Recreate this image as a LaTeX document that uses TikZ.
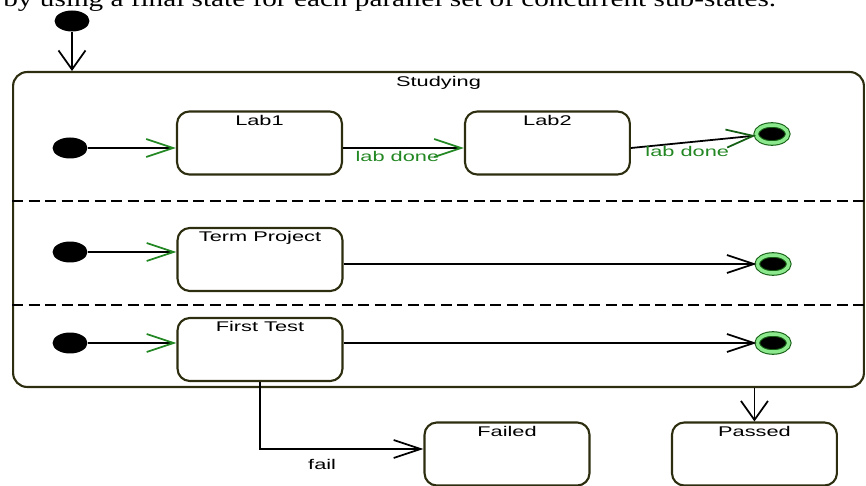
\documentclass[tikz,border=0pt]{standalone}
\usepackage{fontspec}
\setmainfont[FakeStretch=1.55]{Liberation Sans}
\newfontfamily\pageserif[FakeStretch=1.28]{Liberation Serif}
\usetikzlibrary{arrows.meta,positioning,shapes.geometric}

\definecolor{umlgreen}{RGB}{35,135,35}
\definecolor{ringgreen}{RGB}{140,232,140}
\definecolor{darkgreen}{RGB}{20,95,20}
\definecolor{boxline}{RGB}{45,45,15}

\begin{document}
\begin{tikzpicture}[x=0.02cm, y=-0.02cm, node distance=5.76cm,
        font=\fontsize{8}{9.6}\selectfont,
        statebox/.style={rectangle, draw=boxline, line width=1.2pt, rounded corners=7pt, minimum width=3.3cm, minimum height=1.26cm, label={[anchor=north, inner sep=2.5pt]north:#1}},
        superstate/.style={rectangle, draw=boxline, line width=1.2pt, rounded corners=8pt, minimum width=17.02cm, minimum height=6.3cm, label={[anchor=north, inner sep=3pt]north:#1}},
        initstate/.style={ellipse, fill=black, inner sep=0pt, minimum width=0.7cm, minimum height=0.42cm},
        finalstate/.style={ellipse, fill=black, draw=darkgreen, line width=0.6pt, double=ringgreen, double distance=2pt, inner sep=0pt, minimum width=0.63cm, minimum height=0.36cm},
        hflow/.style={line width=1pt, -{Straight Barb[length=5.4mm, width=3.6mm, color=#1]}},
        hflow/.default=black,
        vflow/.style={line width=1pt, -{Straight Barb[length=3.8mm, width=5.4mm]}},
        guard/.style={text=umlgreen, inner sep=1.5pt}]

        \useasboundingbox (0,0) rectangle (866,486);

        % Page text cut off above
        \node[anchor=base west, inner sep=0pt, font=\pageserif\fontsize{13}{15}\selectfont] (pagetext) at (3,7) {by using a final state for each parallel set of concurrent sub-states.};

        % Composite state
        \node[superstate=Studying] (studying) at (438.5,229.5) {};
        \coordinate (split1) at (0,201);
        \coordinate (split2) at (0,305);

        % Entry
        \node[initstate] (start) at (72,21) {};

        % Labs
        \node[initstate] (labinit) at (70,148) {};
        \node[statebox=Lab1] (lab1) at (259.5,143) {};
        \node[statebox=Lab2, right of=lab1] (lab2) {};
        \node[finalstate] (labend) at (772,134) {};

        % Term project
        \node[initstate] (projinit) at (70,252) {};
        \node[statebox=Term Project] (project) at (260,259.5) {};
        \node[finalstate] (projend) at (773,264) {};

        % First test
        \node[initstate] (testinit) at (70,343) {};
        \node[statebox=First Test] (firsttest) at (260,349.5) {};
        \node[finalstate] (testend) at (773,343) {};

        % Results
        \node[statebox=Failed] (failed) at (507,454) {};
        \node[statebox=Passed, right of=failed, xshift=-0.81cm] (passed) {};

        % Region borders
        \draw[line width=1pt, dash pattern=on 2.2mm off 1.1mm] (studying.west |- split1) -- (studying.east |- split1);
        \draw[line width=1pt, dash pattern=on 2.2mm off 1.1mm] (studying.west |- split2) -- (studying.east |- split2);

        % Draw arrows
        \draw[vflow] (start) -- (start |- studying.north);
        \draw[hflow=umlgreen] (labinit) -- (labinit -| lab1.west);
        \draw[hflow=umlgreen] (lab1.east |- labinit) -- node[guard, below, pos=0.45] {lab done} (lab2.west |- labinit);
        \draw[hflow=darkgreen] (lab2.east |- labinit) -- node[guard, below, pos=0.45] {lab done} (labend);
        \draw[hflow=umlgreen] (projinit) -- (projinit -| project.west);
        \draw[hflow] (project.east |- projend) -- (projend);
        \draw[hflow=umlgreen] (testinit) -- (testinit -| firsttest.west);
        \draw[hflow] (firsttest.east |- testend) -- (testend);
        \draw[hflow] (firsttest.south) |- node[pos=0.69, below=2pt] {fail} ([yshift=0.1cm]failed.west);
        \draw[vflow] (passed.north |- studying.south) -- (passed);

    \end{tikzpicture}
\end{document}
